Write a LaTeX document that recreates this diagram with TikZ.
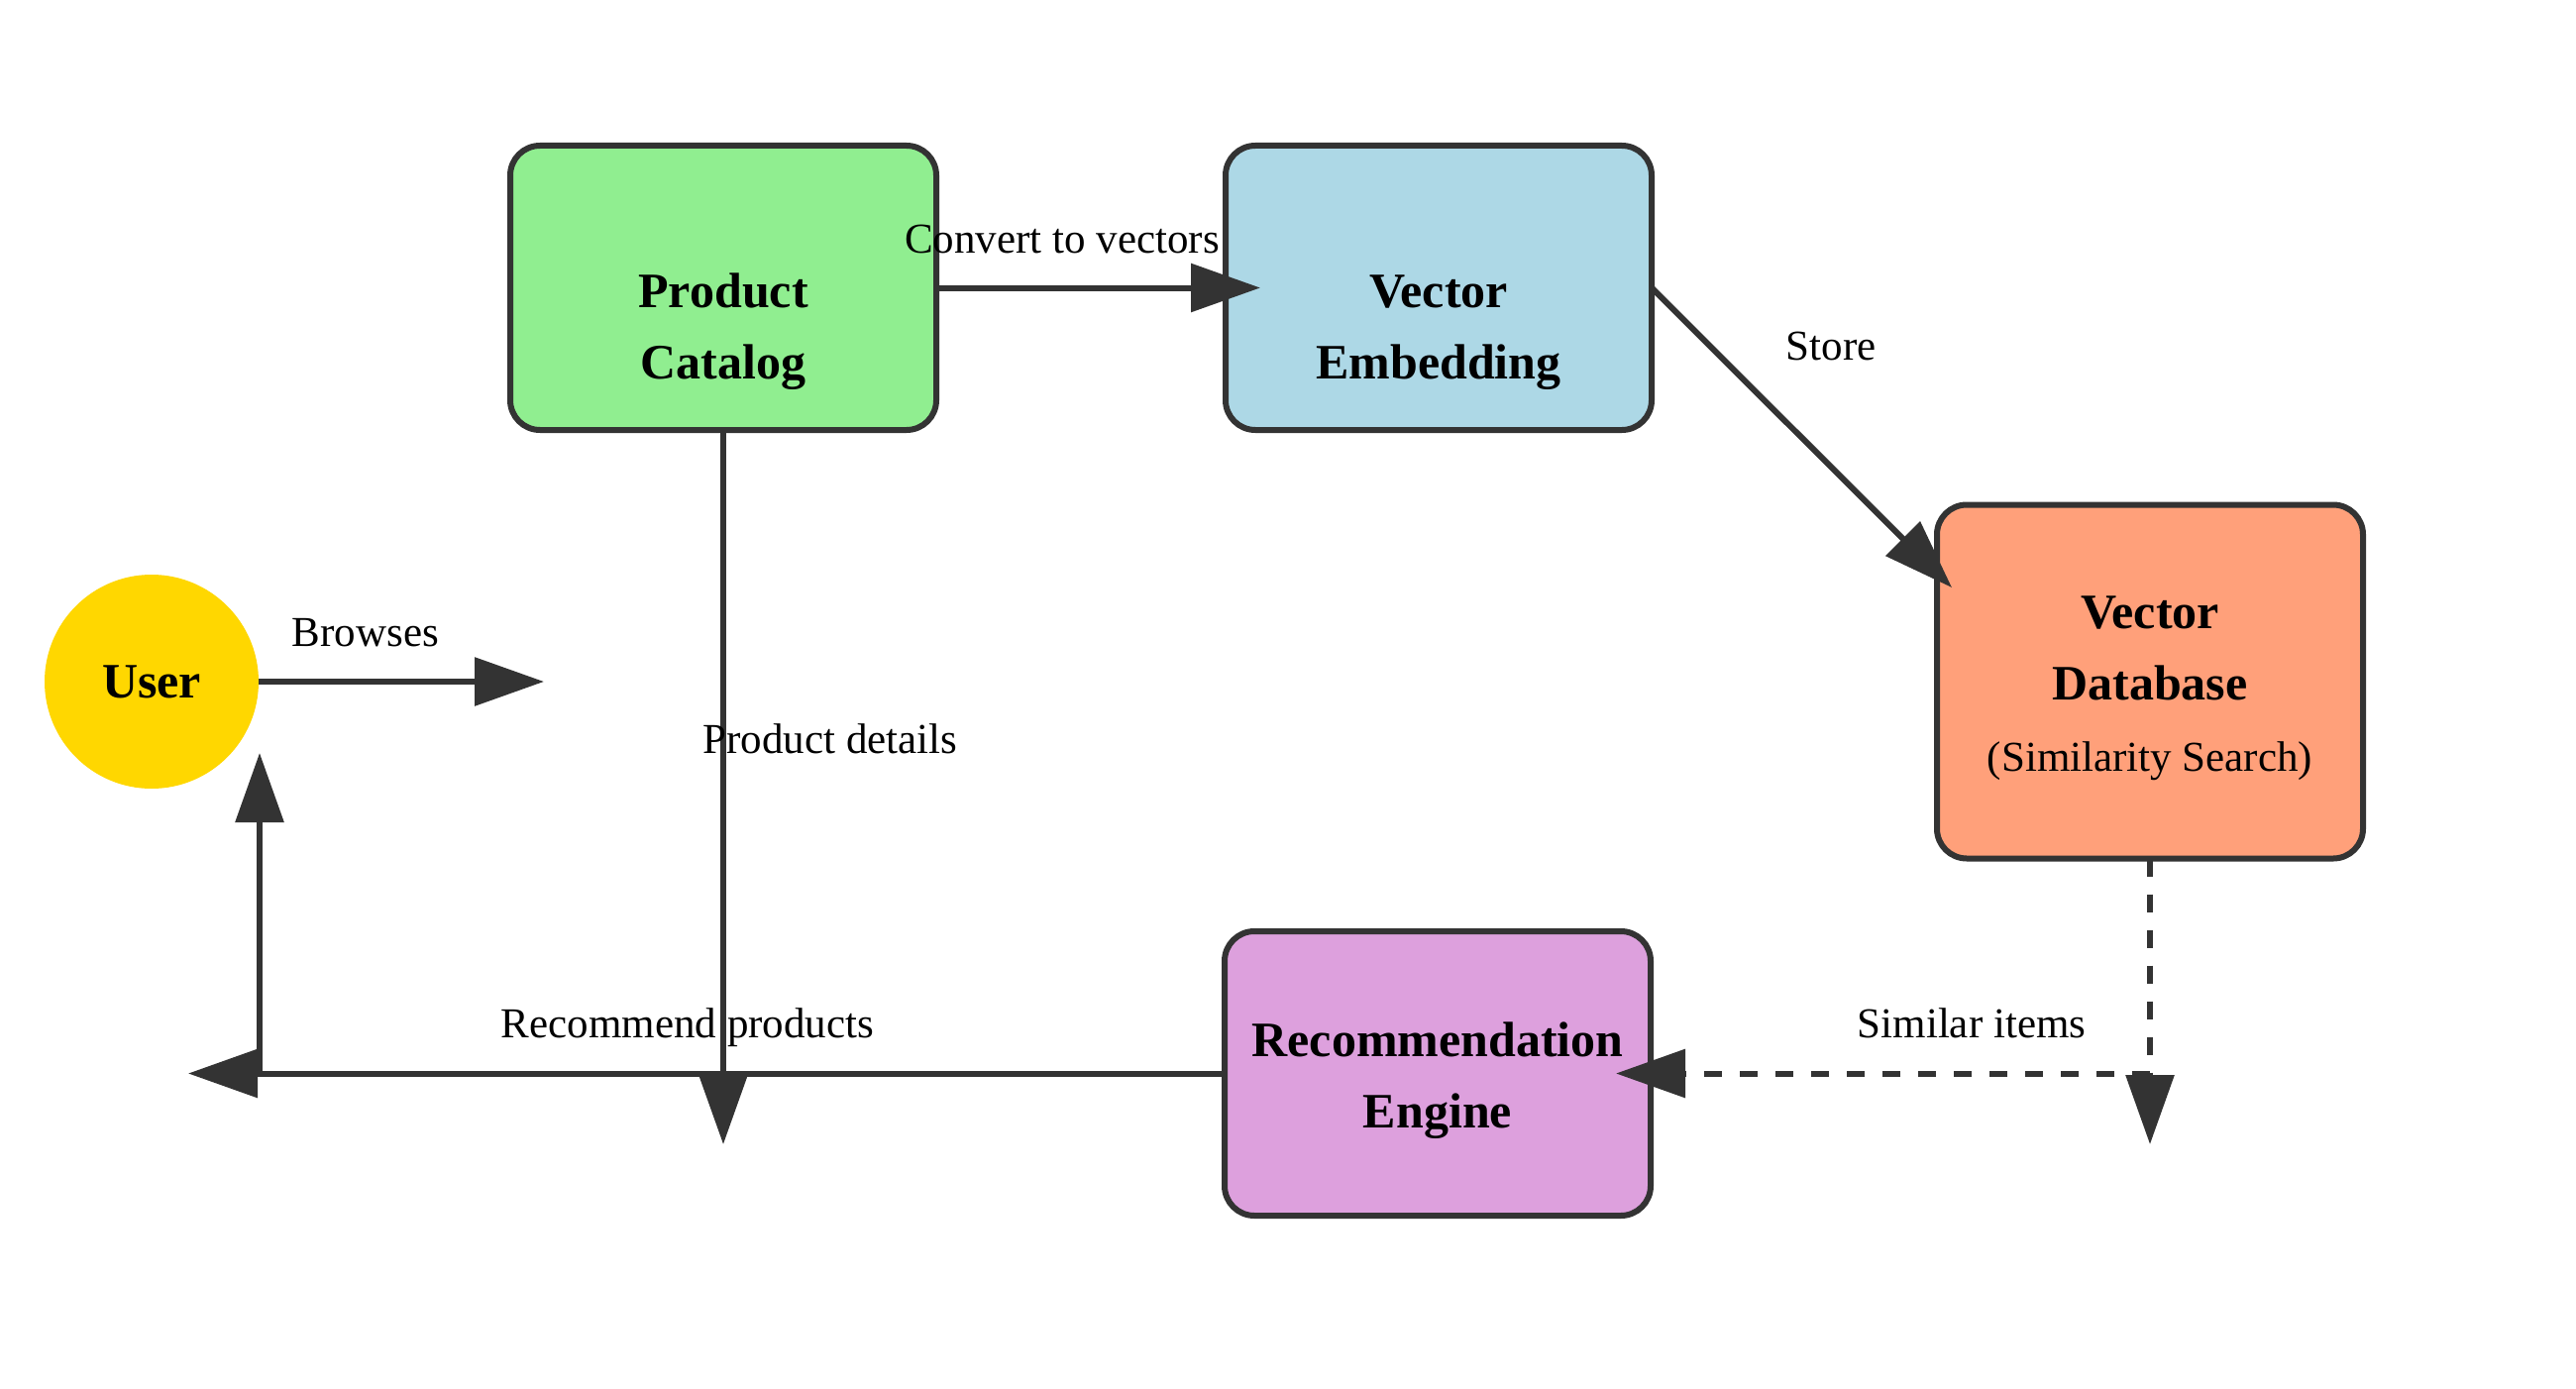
\documentclass[tikz,border=0pt]{standalone}
\usepackage{fontspec}
\setmainfont{Liberation Serif}
\usetikzlibrary{arrows.meta}
\definecolor{ink}{HTML}{333333}
\definecolor{cgold}{HTML}{FFD700}
\definecolor{cgreen}{HTML}{90EE90}
\definecolor{cblue}{HTML}{ADD8E6}
\definecolor{csalmon}{HTML}{FFA07A}
\definecolor{cplum}{HTML}{DDA0DD}
\newcommand\lnstrut{\rule[-12.5pt]{0pt}{50pt}}
\begin{document}
\begin{tikzpicture}[x=1pt,y=-1pt,
  box/.style={draw=ink, line width=6pt, rounded corners=30pt, minimum width=430pt, minimum height=287pt, inner sep=0pt, outer sep=0pt},
  boxtext/.style={align=center, inner sep=0pt, font=\bfseries\fontsize{50}{72}\selectfont},
  lbl/.style={anchor=base, inner sep=0pt, font=\fontsize{43}{52}\selectfont},
  flow/.style={draw=ink, line width=6pt, -{Triangle[length=70pt,width=48pt]}},
  dflow/.style={flow, dash pattern=on 18pt off 18pt},
]
\fill[white] (0,0) rectangle (2600,1402);
\useasboundingbox (0,0) rectangle (2600,1402);

\node[circle, fill=cgold, minimum size=216pt, inner sep=0pt, font=\bfseries\fontsize{50}{60}\selectfont] (user) at (153,688) {User};
\node[box, fill=cgreen] (pc) at (730,290.5) {};
\node[box, fill=cblue] (ve) at (1452,290.5) {};
\node[box, fill=csalmon, minimum height=357pt] (vdb) at (2170,688) {};
\node[box, fill=cplum] (rec) at (1451,1083.5) {};

\node[boxtext] (pcT) at (730,333.5) {\lnstrut Product\\\lnstrut Catalog};
\node[boxtext] (veT) at (1452,333.5) {\lnstrut Vector\\\lnstrut Embedding};
\node[boxtext] (recT) at (1451,1089.5) {\lnstrut Recommendation\\\lnstrut Engine};
\node[boxtext] (vdbT) at (2170,693.5) {\lnstrut Vector\\\lnstrut Database\\\lnstrut{\mdseries\fontsize{43}{72}\selectfont (Similarity Search)}};

\coordinate (browseTip) at (549,688);
\coordinate (storeTip) at (1970,593);
\coordinate (detailTip) at (730,1155);
\coordinate (recTip) at (190,1083.5);
\coordinate (joinL) at (262,1083.5);
\coordinate (userTip) at (262,760);
\coordinate (simTip) at (2170,1155);
\coordinate (simJoin) at (2170,1083.5);

\draw[flow] (user.east) -- (browseTip);
\draw[flow, shorten >=-35pt] (pc.east) -- (ve.west);
\draw[flow] (ve.east) -- (storeTip);
\draw[flow] (pc.south) -- (detailTip);
\draw[flow] (rec.west) -- (recTip);
\draw[flow] (joinL) -- (userTip);
\draw[dflow] (vdb.south) -- (simTip);
\draw[dflow, shorten >=-35pt] (simJoin) -- (rec.east);

\node[lbl] (lBrowses) at (369,652) {Browses};
\node[lbl] (lConvert) at (1072,255) {Convert to vectors};
\node[lbl] (lStore) at (1848,363) {Store};
\node[lbl] (lDetails) at (838,760) {Product details};
\node[lbl] (lRecommend) at (694,1047) {Recommend products};
\node[lbl] (lSimilar) at (1990,1047) {Similar items};
\end{tikzpicture}
\end{document}
